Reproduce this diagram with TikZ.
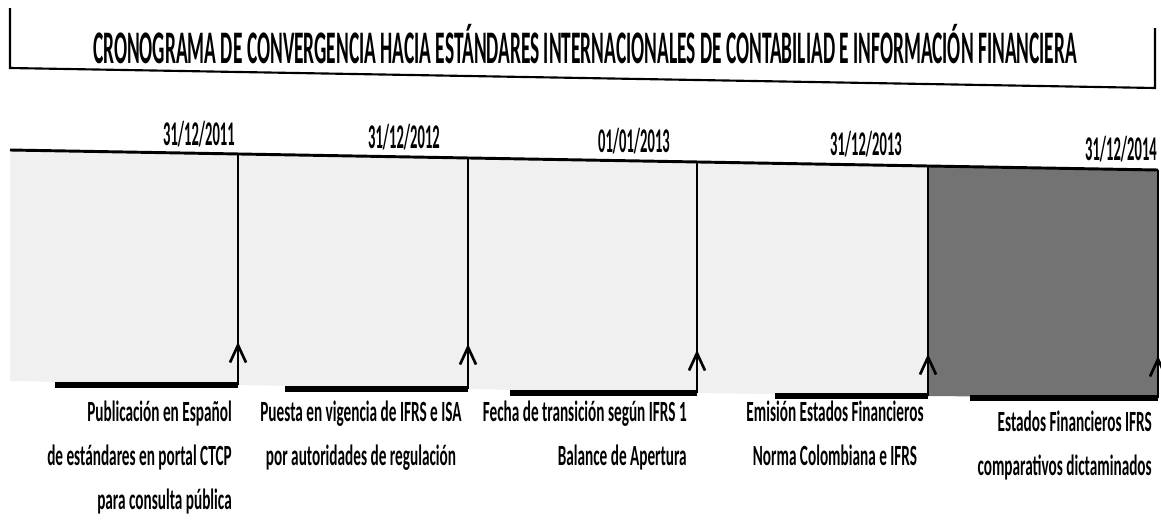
\documentclass[tikz,border=0pt]{standalone}
\usepackage{fontspec}
\setmainfont{Carlito}
\newfontfamily\titlefont[FakeStretch=0.415]{Carlito}
\newfontfamily\datefont[FakeStretch=0.42]{Carlito}
\newfontfamily\notefont[FakeStretch=0.52]{Carlito}
\usetikzlibrary{arrows.meta,positioning}

\begin{document}
\begin{tikzpicture}[x=0.75pt,y=-0.75pt,every node/.style={inner sep=0pt},
  datelbl/.style={font=\datefont\bfseries\fontsize{26}{28}\selectfont,anchor=base east},
  notelbl/.style={font=\notefont\bfseries\fontsize{22}{26}\selectfont,anchor=north east,align=right},
  notemid/.style={notelbl,anchor=north,align=center},
  lightbox/.style={fill=black!6},
  darkbox/.style={fill=black!55},
  basebar/.style={line width=4.5pt},
  uparrow/.style={line width=1.3pt,-{Straight Barb[length=13pt,width=12pt,line width=2pt]}}]
\useasboundingbox (0,0) rectangle (1161,521);
% title frame
\coordinate (t0) at (10,8);
\coordinate (t1) at (10,68);
\coordinate (t2) at (1155,88);
\coordinate (t3) at (1155,28);
\draw[line width=1.6pt] (t0)--(t1)--(t2)--(t3);
\node[font=\titlefont\bfseries\fontsize{35}{38}\selectfont,anchor=base] (title) at (585,63)
  {CRONOGRAMA DE CONVERGENCIA HACIA ESTÁNDARES INTERNACIONALES DE CONTABILIAD E INFORMACIÓN FINANCIERA};
% boxes
\coordinate (s0) at (10,150);   \coordinate (b0) at (10,381);
\coordinate (s1) at (238,154);  \coordinate (b1) at (238,385);
\coordinate (s2) at (468,158);  \coordinate (b2) at (468,389);
\coordinate (s3) at (697,162);  \coordinate (b3) at (697,393);
\coordinate (s4) at (928,166);  \coordinate (b4) at (928,396);
\coordinate (s5) at (1158,170); \coordinate (b5) at (1158,398);
\fill[lightbox] (s0)--(s1)--(b1)--(b0)--cycle;
\fill[lightbox] (s1)--(s2)--(b2)--(b1)--cycle;
\fill[lightbox] (s2)--(s3)--(b3)--(b2)--cycle;
\fill[lightbox] (s3)--(s4)--(b4)--(b3)--cycle;
\fill[darkbox] (s4)--(s5)--(b5)--(b4)--cycle;
\draw[line width=2.2pt] (s0)--(s5);
\foreach \i in {1,...,5} \draw[line width=1.2pt] (s\i)--(b\i);
% dates
\node[datelbl] (d1) at (235,145) {31/12/2011};
\node[datelbl] (d2) at (440,148) {31/12/2012};
\node[datelbl] (d3) at (670,152) {01/01/2013};
\node[datelbl] (d4) at (902,155) {31/12/2013};
\node[datelbl] (d5) at (1157,160) {31/12/2014};
% bars and arrows
\coordinate (e1) at (55,385);  \coordinate (h1) at (238,342);
\coordinate (e2) at (285,389); \coordinate (h2) at (468,344);
\coordinate (e3) at (510,393); \coordinate (h3) at (697,350);
\coordinate (e4) at (775,396); \coordinate (h4) at (928,354);
\coordinate (e5) at (970,398); \coordinate (h5) at (1158,356);
\foreach \i in {1,...,5} {
  \draw[basebar] (e\i)--(b\i);
  \draw[uparrow] (b\i)--(h\i);
}
% notes
\node[notelbl] (n1) at (232,401) {Publicación en Español\\[7pt]de estándares en portal CTCP\\[7pt]para consulta pública};
\node[notemid] (n2) at (361,401) {Puesta en vigencia de IFRS e ISA\\[7pt]por autoridades de regulación};
\node[notelbl] (n3) at (687,401) {Fecha de transición según IFRS 1\\[7pt]Balance de Apertura};
\node[notemid] (n4) at (835,401) {Emisión Estados Financieros\\[7pt]Norma Colombiana e IFRS};
\node[notelbl] (n5) at (1152,411) {Estados Financieros IFRS\\[7pt]comparativos dictaminados};
\end{tikzpicture}
\end{document}
